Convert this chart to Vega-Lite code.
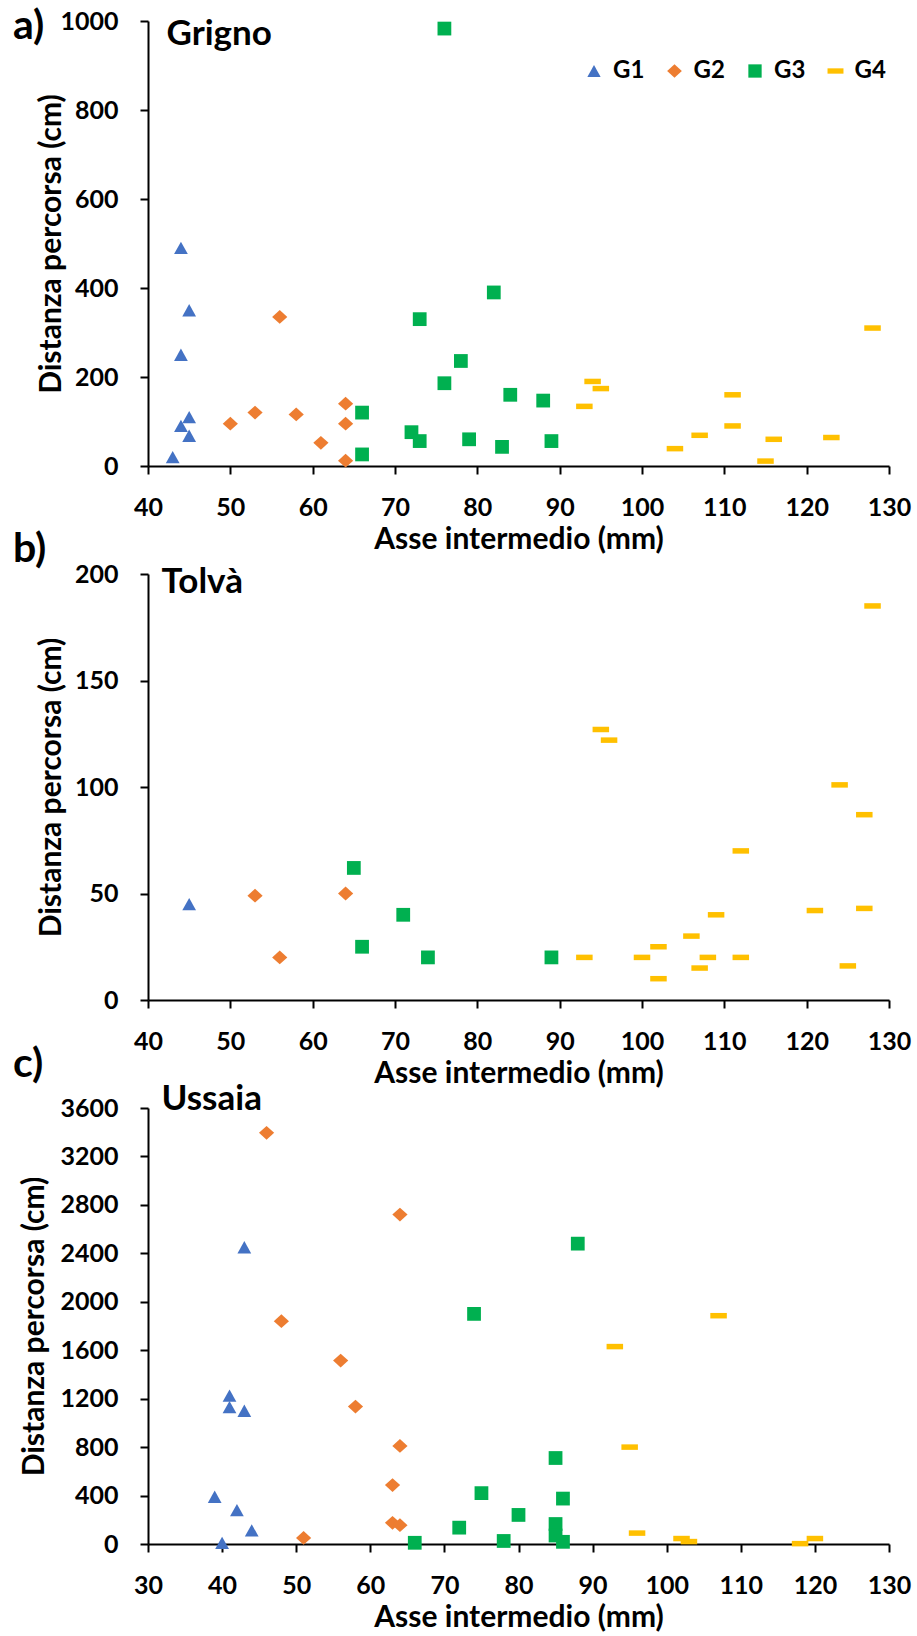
{
  "$schema": "https://vega.github.io/schema/vega-lite/v6.json",
  "background": "white",
  "autosize": {"type": "pad"},
  "padding": {"left": 13, "top": 6, "right": 4, "bottom": 0},
  "config": {
    "font": "Lato",
    "view": {"stroke": null},
    "axis": {
      "labelFont": "Lato", "labelFontWeight": "bold", "labelFontSize": 25, "labelColor": "black",
      "titleFont": "Lato", "titleFontWeight": "bold", "titleFontSize": 30, "titleColor": "black",
      "domainColor": "black", "domainWidth": 2, "tickColor": "black", "tickWidth": 2, "tickSize": 8,
      "grid": false, "labelFlush": false, "labelOverlap": false
    },
    "axisX": {"labelPadding": 21, "titlePadding": 4},
    "axisY": {"labelPadding": 22, "format": "d"},
    "title": {"font": "Lato", "fontWeight": "bold", "fontSize": 41, "color": "black", "anchor": "start", "frame": "group", "baseline": "alphabetic"},
    "point": {"filled": true, "opacity": 1, "size": 210, "strokeWidth": 0}
  },
  "spacing": 108,
  "bounds": "flush",
  "resolve": {"scale": {"color": "independent", "shape": "independent"}},
  "vconcat": [
    {
      "width": 741, "height": 445,
      "title": {"text": "a)", "dx": -135, "offset": -39},
      "data": {"values": [
        {"g": "G1", "asse": 43, "dist": 20}, {"g": "G1", "asse": 44, "dist": 90}, {"g": "G1", "asse": 44, "dist": 250}, {"g": "G1", "asse": 44, "dist": 490}, {"g": "G1", "asse": 45, "dist": 68}, {"g": "G1", "asse": 45, "dist": 110}, {"g": "G1", "asse": 45, "dist": 350},
        {"g": "G2", "asse": 50, "dist": 95}, {"g": "G2", "asse": 53, "dist": 120}, {"g": "G2", "asse": 56, "dist": 335}, {"g": "G2", "asse": 58, "dist": 116}, {"g": "G2", "asse": 61, "dist": 52}, {"g": "G2", "asse": 64, "dist": 12}, {"g": "G2", "asse": 64, "dist": 95}, {"g": "G2", "asse": 64, "dist": 140},
        {"g": "G3", "asse": 66, "dist": 120}, {"g": "G3", "asse": 66, "dist": 26}, {"g": "G3", "asse": 72, "dist": 76}, {"g": "G3", "asse": 73, "dist": 56}, {"g": "G3", "asse": 73, "dist": 330}, {"g": "G3", "asse": 76, "dist": 186}, {"g": "G3", "asse": 76, "dist": 983}, {"g": "G3", "asse": 78, "dist": 236}, {"g": "G3", "asse": 79, "dist": 60}, {"g": "G3", "asse": 82, "dist": 390}, {"g": "G3", "asse": 83, "dist": 43}, {"g": "G3", "asse": 84, "dist": 160}, {"g": "G3", "asse": 88, "dist": 147}, {"g": "G3", "asse": 89, "dist": 56},
        {"g": "G4", "asse": 93, "dist": 134}, {"g": "G4", "asse": 94, "dist": 190}, {"g": "G4", "asse": 95, "dist": 174}, {"g": "G4", "asse": 104, "dist": 39}, {"g": "G4", "asse": 107, "dist": 69}, {"g": "G4", "asse": 111, "dist": 160}, {"g": "G4", "asse": 111, "dist": 90}, {"g": "G4", "asse": 115, "dist": 11}, {"g": "G4", "asse": 116, "dist": 60}, {"g": "G4", "asse": 123, "dist": 64}, {"g": "G4", "asse": 128, "dist": 310}
      ]},
      "layer": [
        {
          "mark": {"type": "point"},
          "encoding": {
            "x": {"field": "asse", "type": "quantitative", "scale": {"domain": [40, 130], "nice": false, "zero": false}, "axis": {"title": "Asse intermedio (mm)", "values": [40, 50, 60, 70, 80, 90, 100, 110, 120, 130]}},
            "y": {"field": "dist", "type": "quantitative", "scale": {"domain": [0, 1000], "nice": false}, "axis": {"title": "Distanza percorsa (cm)", "values": [0, 200, 400, 600, 800, 1000], "titlePadding": -7}},
            "color": {"field": "g", "type": "nominal", "scale": {"domain": ["G1", "G2", "G3", "G4"], "range": ["#4472C4", "#ED7D31", "#00B050", "#FFC000"]},
              "legend": {"orient": "none", "legendX": 434, "legendY": 38, "direction": "horizontal", "title": null, "padding": 0, "labelFont": "Lato", "labelFontSize": 24, "labelFontWeight": "bold", "labelColor": "black", "symbolSize": 196, "labelOffset": 7, "columnPadding": 17.5, "symbolStrokeWidth": 0, "symbolOpacity": 1}},
            "shape": {"field": "g", "type": "nominal", "scale": {"domain": ["G1", "G2", "G3", "G4"], "range": ["M0,-0.85L0.95,0.85L-0.95,0.85Z", "M0,-0.95L1.05,0L0,0.95L-1.05,0Z", "M-0.95,-0.95H0.95V0.95H-0.95Z", "M-1.14,-0.38H1.14V0.38H-1.14Z"]},
              "legend": {"orient": "none", "legendX": 434, "legendY": 38, "direction": "horizontal", "title": null, "padding": 0, "labelFont": "Lato", "labelFontSize": 24, "labelFontWeight": "bold", "labelColor": "black", "symbolSize": 196, "labelOffset": 7, "columnPadding": 17.5, "symbolStrokeWidth": 0, "symbolOpacity": 1}}
          }
        },
        {
          "mark": {"type": "point", "opacity": 0},
          "encoding": {
            "x": {"field": "asse", "type": "quantitative", "axis": {"orient": "top", "title": "Grigno", "domain": false, "ticks": false, "labels": false, "titleX": 18, "titleY": 23, "titleAlign": "left", "titleAngle": 0, "titleBaseline": "alphabetic", "titleFontSize": 35}}
          }
        }
      ],
      "resolve": {"axis": {"x": "independent"}}
    },
    {
      "width": 741, "height": 426,
      "title": {"text": "b)", "dx": -135, "offset": -8.5},
      "data": {"values": [
        {"g": "G1", "asse": 45, "dist": 45},
        {"g": "G2", "asse": 53, "dist": 49}, {"g": "G2", "asse": 56, "dist": 20}, {"g": "G2", "asse": 64, "dist": 50},
        {"g": "G3", "asse": 65, "dist": 62}, {"g": "G3", "asse": 66, "dist": 25}, {"g": "G3", "asse": 71, "dist": 40}, {"g": "G3", "asse": 74, "dist": 20}, {"g": "G3", "asse": 89, "dist": 20},
        {"g": "G4", "asse": 93, "dist": 20}, {"g": "G4", "asse": 95, "dist": 127}, {"g": "G4", "asse": 96, "dist": 122}, {"g": "G4", "asse": 100, "dist": 20}, {"g": "G4", "asse": 102, "dist": 25}, {"g": "G4", "asse": 102, "dist": 10}, {"g": "G4", "asse": 106, "dist": 30}, {"g": "G4", "asse": 107, "dist": 15}, {"g": "G4", "asse": 108, "dist": 20}, {"g": "G4", "asse": 109, "dist": 40}, {"g": "G4", "asse": 112, "dist": 70}, {"g": "G4", "asse": 112, "dist": 20}, {"g": "G4", "asse": 121, "dist": 42}, {"g": "G4", "asse": 124, "dist": 101}, {"g": "G4", "asse": 125, "dist": 16}, {"g": "G4", "asse": 127, "dist": 87}, {"g": "G4", "asse": 127, "dist": 43}, {"g": "G4", "asse": 128, "dist": 185}
      ]},
      "layer": [
        {
          "mark": {"type": "point"},
          "encoding": {
            "x": {"field": "asse", "type": "quantitative", "scale": {"domain": [40, 130], "nice": false, "zero": false}, "axis": {"title": "Asse intermedio (mm)", "values": [40, 50, 60, 70, 80, 90, 100, 110, 120, 130]}},
            "y": {"field": "dist", "type": "quantitative", "scale": {"domain": [0, 200], "nice": false}, "axis": {"title": "Distanza percorsa (cm)", "values": [0, 50, 100, 150, 200], "titlePadding": 8}},
            "color": {"field": "g", "type": "nominal", "scale": {"domain": ["G1", "G2", "G3", "G4"], "range": ["#4472C4", "#ED7D31", "#00B050", "#FFC000"]}, "legend": null},
            "shape": {"field": "g", "type": "nominal", "scale": {"domain": ["G1", "G2", "G3", "G4"], "range": ["M0,-0.85L0.95,0.85L-0.95,0.85Z", "M0,-0.95L1.05,0L0,0.95L-1.05,0Z", "M-0.95,-0.95H0.95V0.95H-0.95Z", "M-1.14,-0.38H1.14V0.38H-1.14Z"]}, "legend": null}
          }
        },
        {
          "mark": {"type": "point", "opacity": 0},
          "encoding": {
            "x": {"field": "asse", "type": "quantitative", "axis": {"orient": "top", "title": "Tolvà", "domain": false, "ticks": false, "labels": false, "titleX": 13, "titleY": 18.5, "titleAlign": "left", "titleAngle": 0, "titleBaseline": "alphabetic", "titleFontSize": 35}}
          }
        }
      ],
      "resolve": {"axis": {"x": "independent"}}
    },
    {
      "width": 741, "height": 436,
      "title": {"text": "c)", "dx": -135, "offset": -5},
      "data": {"values": [
        {"g": "G1", "asse": 39, "dist": 390}, {"g": "G1", "asse": 40, "dist": 10}, {"g": "G1", "asse": 41, "dist": 1225}, {"g": "G1", "asse": 41, "dist": 1130}, {"g": "G1", "asse": 42, "dist": 280}, {"g": "G1", "asse": 43, "dist": 2450}, {"g": "G1", "asse": 43, "dist": 1100}, {"g": "G1", "asse": 44, "dist": 112},
        {"g": "G2", "asse": 46, "dist": 3395}, {"g": "G2", "asse": 48, "dist": 1840}, {"g": "G2", "asse": 51, "dist": 50}, {"g": "G2", "asse": 56, "dist": 1515}, {"g": "G2", "asse": 58, "dist": 1135}, {"g": "G2", "asse": 63, "dist": 487}, {"g": "G2", "asse": 63, "dist": 175}, {"g": "G2", "asse": 64, "dist": 2720}, {"g": "G2", "asse": 64, "dist": 810}, {"g": "G2", "asse": 64, "dist": 155},
        {"g": "G3", "asse": 66, "dist": 10}, {"g": "G3", "asse": 72, "dist": 135}, {"g": "G3", "asse": 74, "dist": 1900}, {"g": "G3", "asse": 75, "dist": 420}, {"g": "G3", "asse": 78, "dist": 25}, {"g": "G3", "asse": 80, "dist": 240}, {"g": "G3", "asse": 85, "dist": 710}, {"g": "G3", "asse": 85, "dist": 165}, {"g": "G3", "asse": 85, "dist": 70}, {"g": "G3", "asse": 86, "dist": 375}, {"g": "G3", "asse": 86, "dist": 18}, {"g": "G3", "asse": 88, "dist": 2480},
        {"g": "G4", "asse": 93, "dist": 1630}, {"g": "G4", "asse": 95, "dist": 800}, {"g": "G4", "asse": 96, "dist": 90}, {"g": "G4", "asse": 102, "dist": 45}, {"g": "G4", "asse": 103, "dist": 20}, {"g": "G4", "asse": 107, "dist": 1885}, {"g": "G4", "asse": 118, "dist": 3}, {"g": "G4", "asse": 120, "dist": 45}
      ]},
      "layer": [
        {
          "mark": {"type": "point"},
          "encoding": {
            "x": {"field": "asse", "type": "quantitative", "scale": {"domain": [30, 130], "nice": false, "zero": false}, "axis": {"title": "Asse intermedio (mm)", "values": [30, 40, 50, 60, 70, 80, 90, 100, 110, 120, 130]}},
            "y": {"field": "dist", "type": "quantitative", "scale": {"domain": [0, 3600], "nice": false}, "axis": {"title": "Distanza percorsa (cm)", "values": [0, 400, 800, 1200, 1600, 2000, 2400, 2800, 3200, 3600], "titlePadding": 10}},
            "color": {"field": "g", "type": "nominal", "scale": {"domain": ["G1", "G2", "G3", "G4"], "range": ["#4472C4", "#ED7D31", "#00B050", "#FFC000"]}, "legend": null},
            "shape": {"field": "g", "type": "nominal", "scale": {"domain": ["G1", "G2", "G3", "G4"], "range": ["M0,-0.85L0.95,0.85L-0.95,0.85Z", "M0,-0.95L1.05,0L0,0.95L-1.05,0Z", "M-0.95,-0.95H0.95V0.95H-0.95Z", "M-1.14,-0.38H1.14V0.38H-1.14Z"]}, "legend": null}
          }
        },
        {
          "mark": {"type": "point", "opacity": 0},
          "encoding": {
            "x": {"field": "asse", "type": "quantitative", "axis": {"orient": "top", "title": "Ussaia", "domain": false, "ticks": false, "labels": false, "titleX": 13, "titleY": 1, "titleAlign": "left", "titleAngle": 0, "titleBaseline": "alphabetic", "titleFontSize": 35}}
          }
        }
      ],
      "resolve": {"axis": {"x": "independent"}}
    }
  ]
}
